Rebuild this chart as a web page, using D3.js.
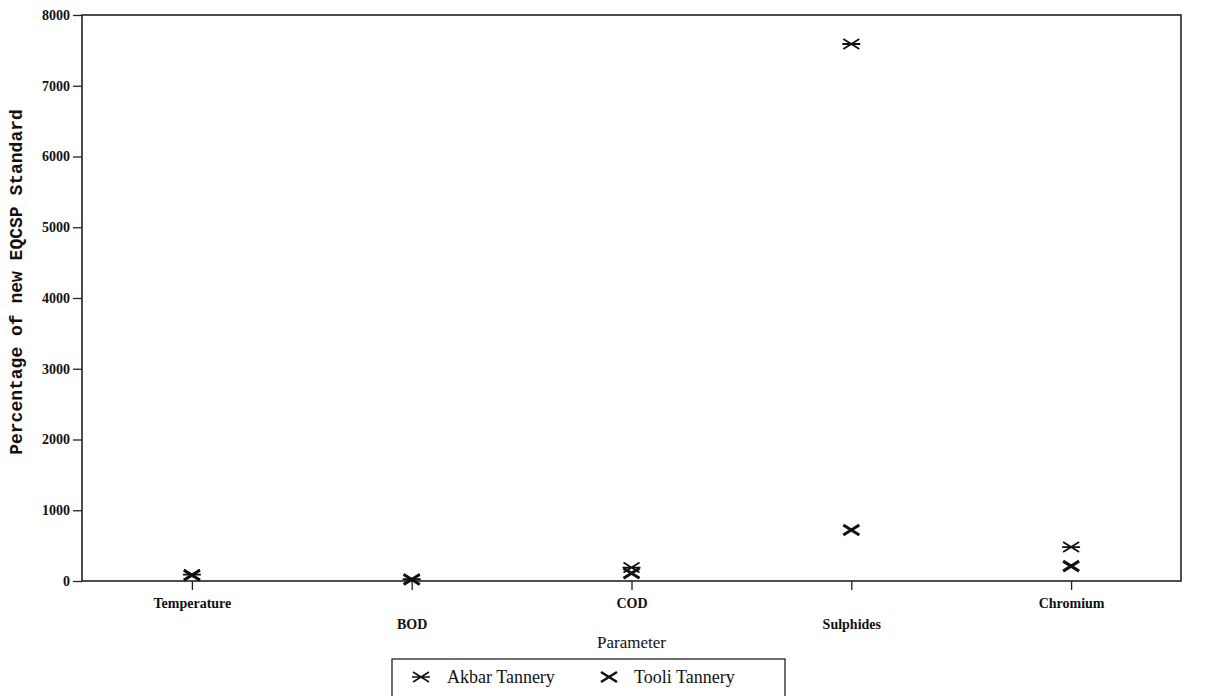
<!DOCTYPE html>
<html>
<head>
<meta charset="utf-8">
<script src="https://cdn.jsdelivr.net/npm/d3@7"></script>
<style>
  body { margin: 0; background: #fff; }
  text { font-family: "Liberation Serif", serif; fill: #111; }
</style>
</head>
<body>
<svg id="chart" width="1207" height="696"></svg>
<script>
// data
const parameters = ["Temperature", "BOD", "COD", "Sulphides", "Chromium"]
const akbarTannery = [90, 25, 190, 7590, 480]
const tooliTannery = [80, 20, 110, 720, 210]
const yTicks = [0, 1000, 2000, 3000, 4000, 5000, 6000, 7000, 8000]

const svg = d3.select("#chart")
const margin = {top: 15, right: 26, bottom: 115, left: 82}
const width = 1207 - margin.left - margin.right
const height = 696 - margin.top - margin.bottom

const g = svg.append("g")
  .attr("transform", "translate(" + margin.left + "," + margin.top + ")")

const x = d3.scalePoint()
  .domain(parameters)
  .range([0, width])
  .padding(0.5)

const y = d3.scaleLinear()
  .domain([0, 8000])
  .range([height, 0])

// frame
g.append("rect")
  .attr("width", width)
  .attr("height", height)
  .attr("fill", "none")
  .attr("stroke", "#222")
  .attr("stroke-width", 1.6)

// y axis
const yAxis = g.append("g")
  .call(d3.axisLeft(y).tickValues(yTicks).tickFormat(d3.format("d")).tickSize(9).tickPadding(3))
yAxis.select(".domain").remove()
yAxis.selectAll("line").attr("stroke", "#222").attr("stroke-width", 1.3)
yAxis.selectAll("text")
  .style("font-family", "Liberation Serif")
  .style("font-size", "14px")
  .style("font-weight", "bold")

// x axis, labels staggered like the original
const xAxis = g.append("g")
  .attr("transform", "translate(0," + height + ")")
  .call(d3.axisBottom(x).tickSize(9).tickPadding(8))
xAxis.select(".domain").remove()
xAxis.selectAll("line").attr("stroke", "#222").attr("stroke-width", 1.3)
xAxis.selectAll("text")
  .style("font-family", "Liberation Serif")
  .style("font-size", "14px")
  .style("font-weight", "bold")
  .attr("dy", (d, i) => i % 2 === 1 ? "2.2em" : "0.71em")

// axis titles
svg.append("text")
  .attr("transform", "translate(22,282) rotate(-90)")
  .attr("text-anchor", "middle")
  .style("font-family", "Liberation Mono")
  .style("font-size", "18px")
  .style("font-weight", "bold")
  .text("Percentage of new EQCSP Standard")

svg.append("text")
  .attr("x", margin.left + x("COD"))
  .attr("y", 648)
  .attr("text-anchor", "middle")
  .style("font-size", "17px")
  .text("Parameter")

// markers
const asterisk = "M-8,-5L8,5M-8,5L8,-5M-9,0L9,0"
const cross = "M-8,-5L8,5M-8,5L8,-5"

g.selectAll(".akbar")
  .data(akbarTannery)
  .enter().append("path")
    .attr("class", "akbar")
    .attr("transform", (d, i) => "translate(" + x(parameters[i]) + "," + y(d) + ")")
    .attr("d", asterisk)
    .attr("stroke", "#111")
    .attr("stroke-width", 1.8)
    .attr("fill", "none")

g.selectAll(".tooli")
  .data(tooliTannery)
  .enter().append("path")
    .attr("class", "tooli")
    .attr("transform", (d, i) => "translate(" + x(parameters[i]) + "," + y(d) + ")")
    .attr("d", cross)
    .attr("stroke", "#111")
    .attr("stroke-width", 3)
    .attr("fill", "none")

// legend
const legend = svg.append("g").attr("transform", "translate(392,659)")
legend.append("rect")
  .attr("width", 393)
  .attr("height", 45)
  .attr("fill", "none")
  .attr("stroke", "#222")
  .attr("stroke-width", 1.3)
legend.append("path")
  .attr("transform", "translate(29,18)")
  .attr("d", asterisk)
  .attr("stroke", "#111").attr("stroke-width", 1.5).attr("fill", "none")
legend.append("text")
  .attr("x", 55).attr("y", 24)
  .style("font-size", "18px")
  .text("Akbar Tannery")
legend.append("path")
  .attr("transform", "translate(217,18)")
  .attr("d", cross)
  .attr("stroke", "#111").attr("stroke-width", 2.6).attr("fill", "none")
legend.append("text")
  .attr("x", 242).attr("y", 24)
  .style("font-size", "18px")
  .text("Tooli Tannery")
</script>
</body>
</html>
